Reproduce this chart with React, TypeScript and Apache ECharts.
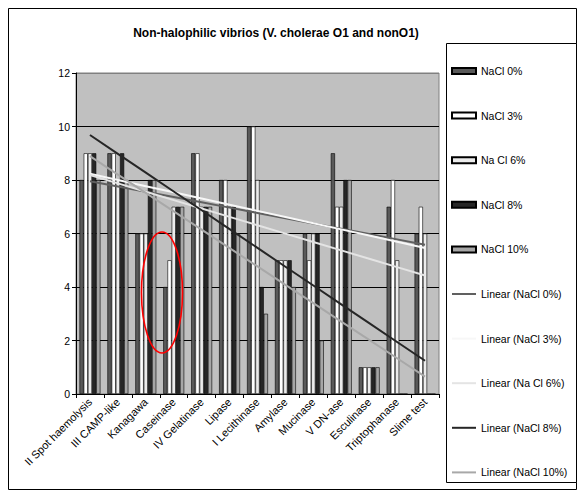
import React, { useEffect, useRef } from "react";
import * as echarts from "echarts";

const categories = [
  "II Spot haemolysis",
  "III CAMP-like",
  "Kanagawa",
  "Caseinase",
  "IV Gelatinase",
  "Lipase",
  "I Lecithinase",
  "Amylase",
  "Mucinase",
  "V DN-ase",
  "Esculinase",
  "Triptophanase",
  "Slime test",
];

const seriesNames = ["NaCl 0%", "NaCl 3%", "Na Cl 6%", "NaCl 8%", "NaCl 10%"];
const nacl0 = [8, 9, 6, 4, 9, 8, 10, 5, 6, 9, 1, 7, 6];
const nacl3 = [9, 9, 6, 5, 9, 8, 10, 5, 5, 7, 1, 8, 7];
const nacl6 = [9, 8, 6, 7, 7, 7, 8, 5, 6, 7, 1, 5, 6];
const nacl8 = [9, 9, 8, 7, 7, 7, 4, 5, 6, 8, 1, 0, 0];
const nacl10 = [8, 8, 8, 7, 7, 6, 3, 4, 2, 8, 1, 0, 0];

const yTicks = [0, 2, 4, 6, 8, 10, 12];

const barColors = ["#595959", "#ffffff", "#ececec", "#262626", "#a6a6a6"];
const trendColors = ["#606060", "#f7f7f7", "#e4e4e4", "#262626", "#a8a8a8"];

const FONT = "'Liberation Sans', Arial, sans-serif";

function linearTrend(values: number[]): number[] {
  const n = values.length;
  const xs = values.map((_, i) => i + 1);
  const mx = xs.reduce((a, b) => a + b, 0) / n;
  const my = values.reduce((a, b) => a + b, 0) / n;
  let sxy = 0;
  let sxx = 0;
  for (let i = 0; i < n; i++) {
    sxy += (xs[i] - mx) * (values[i] - my);
    sxx += (xs[i] - mx) * (xs[i] - mx);
  }
  const slope = sxy / sxx;
  return xs.map((x) => +(my + slope * (x - mx)).toFixed(4));
}

export default function App() {
  const ref = useRef<HTMLDivElement>(null);

  useEffect(() => {
    if (!ref.current) return;
    const chart = echarts.init(ref.current, undefined, { renderer: "svg" });
    const data = [nacl0, nacl3, nacl6, nacl8, nacl10];

    const barSeries = data.map((d, i) => ({
      name: seriesNames[i],
      type: "bar",
      data: d,
      barGap: "0%",
      barCategoryGap: "25%",
      itemStyle: { color: barColors[i], borderColor: "#000", borderWidth: 0.6 },
      z: 2,
    }));

    const lineSeries = data.map((d, i) => ({
      name: "Linear (" + seriesNames[i] + ")",
      type: "line",
      data: linearTrend(d),
      symbol: "none",
      showSymbol: false,
      lineStyle: { color: trendColors[i], width: 2 },
      itemStyle: { color: trendColors[i] },
      z: 5,
    }));

    const legendData = [
      ...seriesNames.map((n) => ({ name: n, icon: "rect" })),
      ...seriesNames.map((n) => ({
        name: "Linear (" + n + ")",
        itemStyle: { opacity: 0 },
      })),
    ];

    chart.setOption({
      animation: false,
      backgroundColor: "#ffffff",
      textStyle: { fontFamily: FONT },
      title: {
        text: "Non-halophilic vibrios (V. cholerae O1 and nonO1)",
        left: 271,
        top: 22,
        textAlign: "center",
        textStyle: { fontSize: 12, fontWeight: "bold", color: "#000", fontFamily: FONT },
      },
      legend: {
        orient: "vertical",
        left: 446,
        top: 60,
        itemWidth: 24,
        itemHeight: 6,
        itemGap: 32.6,
        data: legendData,
        selectedMode: false,
        textStyle: { fontSize: 10.5, color: "#000", fontFamily: FONT, lineHeight: 12 },
      },
      grid: {
        left: 76,
        right: 139,
        top: 73,
        bottom: 97,
        show: true,
        backgroundColor: "#c0c0c0",
        borderColor: "#808080",
        borderWidth: 1,
      },
      xAxis: {
        type: "category",
        data: categories,
        axisLine: { lineStyle: { color: "#000", width: 1 } },
        axisTick: { show: true, alignWithLabel: false, length: 4, lineStyle: { color: "#000" } },
        axisLabel: {
          rotate: 45,
          interval: 0,
          fontSize: 11,
          color: "#000000",
          margin: 6,
          fontFamily: FONT,
        },
      },
      yAxis: {
        type: "value",
        min: yTicks[0],
        max: yTicks[yTicks.length - 1],
        interval: 2,
        axisLine: { show: true, lineStyle: { color: "#000", width: 1 } },
        axisTick: { show: true, length: 4, lineStyle: { color: "#000" } },
        axisLabel: { fontSize: 10.5, color: "#000", margin: 6, fontFamily: FONT },
        splitLine: {
          show: true,
          lineStyle: { color: ["#000", "#000", "#000", "#000", "#000", "#000", "#808080"], width: 1 },
        },
      },
      graphic: [
        {
          type: "rect",
          shape: { x: 8.5, y: 8.5, width: 568, height: 481 },
          style: { fill: "none", stroke: "#000", lineWidth: 1 },
          silent: true,
          z: -10,
        },
        {
          type: "rect",
          shape: { x: 446.5, y: 43.5, width: 130, height: 439 },
          style: { fill: "#fff", stroke: "#000", lineWidth: 1 },
          silent: true,
          z: -5,
        },
        {
          type: "ellipse",
          shape: { cx: 162, cy: 292.5, rx: 20.5, ry: 60.5 },
          style: { fill: "none", stroke: "#ff0000", lineWidth: 1.6 },
          silent: true,
          z: 100,
        },
      ],
      series: [...barSeries, ...lineSeries],
    });

    return () => chart.dispose();
  }, []);

  return (
    <div
      ref={ref}
      style={{ position: "fixed", left: 0, top: 0, width: 578, height: 491 }}
    />
  );
}
